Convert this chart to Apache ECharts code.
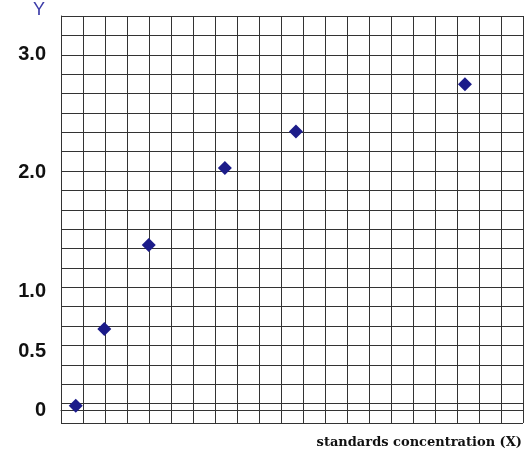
<!DOCTYPE html>
<html>
<head>
<meta charset="utf-8">
<script src="https://cdn.jsdelivr.net/npm/echarts@6/dist/echarts.min.js"></script>
<style>html,body{margin:0;padding:0;background:#fff;}#c{width:529px;height:454px;}</style>
</head>
<body>
<div id="c"></div>
<script>
// Data (x in grid-column units, y in Y units)
var xValues = [0.67, 1.97, 3.99, 7.45, 10.68, 18.36];
var yValues = [0.04, 0.685, 1.392, 2.04, 2.347, 2.746];
// Y tick labels
var yTickValues = [0, 0.5, 1.0, 2.0, 3.0];
var yTickLabels = ['0', '0.5', '1.0', '2.0', '3.0'];
var xTitle = 'standards concentration (X)';
var yTitle = 'Y';

var chart = echarts.init(document.getElementById('c'), null, {renderer: 'canvas'});
var lineColor = '#333333';
var pts = xValues.map(function (x, i) { return [x, yValues[i]]; });
chart.setOption({
  backgroundColor: '#ffffff',
  animation: false,
  title: {
    text: yTitle, left: 28, top: -4,
    textStyle: {color: '#3b3ba8', fontSize: 18, fontWeight: 'normal', fontFamily: 'Liberation Sans'}
  },
  grid: {left: 61, top: 16, right: 6, bottom: 31, containLabel: false},
  xAxis: {
    type: 'value', min: 0, max: 21, interval: 1,
    axisLine: {show: true, lineStyle: {color: lineColor, width: 1}},
    axisTick: {show: false},
    axisLabel: {show: false},
    splitLine: {show: true, lineStyle: {color: lineColor, width: 1}},
    name: xTitle, nameLocation: 'end', nameGap: -1,
    nameTextStyle: {align: 'right', verticalAlign: 'top', padding: [24, 0, 0, 0],
      lineHeight: 16,
      fontFamily: 'DejaVu Serif', fontWeight: 'bold', fontSize: 13, color: '#111'}
  },
  yAxis: [{
    type: 'value', min: -0.105, max: 3.32, position: 'left',
    axisLine: {show: true, lineStyle: {color: lineColor, width: 1}},
    axisTick: {show: false},
    splitLine: {show: false},
    axisLabel: {
      show: true, customValues: yTickValues, margin: 15,
      formatter: function (v) { var i = yTickValues.indexOf(v); return i >= 0 ? yTickLabels[i] : ''; },
      fontFamily: 'Liberation Sans', fontWeight: 'bold', fontSize: 20, color: '#111'
    }
  }, {
    type: 'value', min: 0, max: 21, interval: 1, position: 'left',
    axisLine: {show: false}, axisTick: {show: false}, axisLabel: {show: false},
    splitLine: {show: true, lineStyle: {color: lineColor, width: 1}}
  }],
  series: [{
    type: 'scatter', yAxisIndex: 0, data: pts,
    symbol: 'diamond', symbolSize: 14,
    itemStyle: {color: '#1c1c8a', opacity: 1}
  }]
});
</script>
</body>
</html>
